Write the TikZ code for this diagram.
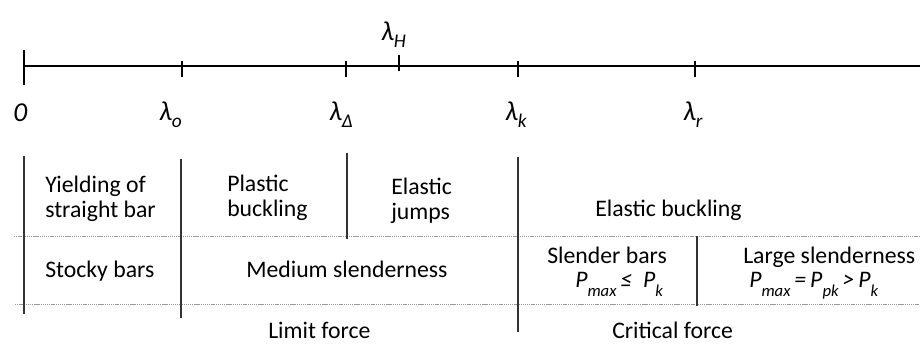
\documentclass[tikz,border=0pt]{standalone}
\usepackage{fontspec}
\setmainfont{Carlito}
\newcommand\lowsub[1]{\raisebox{-0.42em}{\fontsize{12.5pt}{12.5pt}\selectfont #1}}
\newcommand\lamsub[1]{\raisebox{-0.25em}{\fontsize{14.5pt}{14.5pt}\selectfont #1}}
\begin{document}
\begin{tikzpicture}[x=0.75pt,y=-0.75pt,
  txt/.style={inner sep=0pt,anchor=base west,font=\fontsize{17.8pt}{18.8pt}\selectfont},
  lab/.style={inner sep=0pt,anchor=base west,font=\fontsize{20.5pt}{22pt}\selectfont\itshape},
  axis/.style={line width=1pt,black},
  vline/.style={line width=0.9pt,black!80},
  dotline/.style={line width=0.6pt,gray!80,dash pattern=on 1pt off 0.6pt}]
\useasboundingbox (0,0) rectangle (920,345);
% axis
\coordinate (a0) at (24,66);
\coordinate (aend) at (920,66);
\draw[axis] (a0) -- (aend);
\draw[axis] (24,50) -- (24,85);
\foreach \x in {182,346,518,695} \draw[axis] (\x,61) -- (\x,77);
\draw[axis] (399,55) -- (399,71);
% axis labels
\node[lab] (l0) at (13,122) {0};
\node[lab] (lo) at (159,121) {λ\lamsub{o}};
\node[lab] (ld) at (329,121) {λ\lamsub{Δ}};
\node[lab] (lh) at (381,41) {λ\lamsub{H}};
\node[lab] (lk) at (505,121) {λ\lamsub{k}};
\node[lab] (lr) at (683,121) {λ\lamsub{r}};
% dotted horizontal lines
\draw[dotline] (14,236) -- (920,236);
\draw[dotline] (15,304) -- (920,304);
% vertical separators
\draw[vline] (24,156) -- (24,314);
\draw[vline] (181,159) -- (181,318);
\draw[vline] (347,153) -- (347,239);
\draw[vline] (518,157) -- (518,332);
\draw[vline] (697,236) -- (697,306);
% texts
\node[txt] (t1a) at (45,193) {Yielding of};
\node[txt] (t1b) at (45,218) {straight bar};
\node[txt] (t2a) at (227,192) {Plastic};
\node[txt] (t2b) at (227,217) {buckling};
\node[txt] (t3a) at (391,195) {Elastic};
\node[txt] (t3b) at (391,220) {jumps};
\node[txt] (t4) at (595,217) {Elastic buckling};
\node[txt] (t5) at (45,277) {Stocky bars};
\node[txt] (t6) at (246,277) {Medium slenderness};
\node[txt] (t7) at (547,263) {Slender bars};
\node[txt] (t7b) at (575,287) {\itshape P\lowsub{max}\,≤~~P\lowsub{k}};
\node[txt] (t8) at (743,263) {Large slenderness};
\node[txt] (t8b) at (749,287) {\itshape P\lowsub{max}\,=\,P\lowsub{pk}\,>\,P\lowsub{k}};
\node[txt] (t9) at (268,338) {Limit force};
\node[txt] (t10) at (612,338) {Critical force};
\end{tikzpicture}
\end{document}
